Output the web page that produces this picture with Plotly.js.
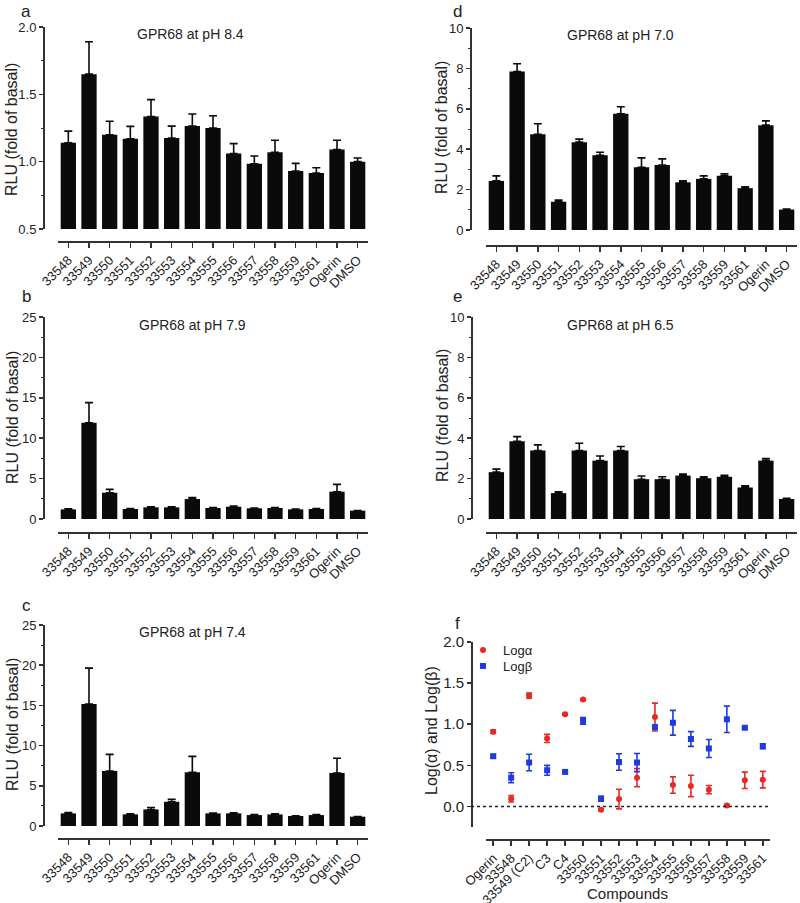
<!DOCTYPE html>
<html>
<head>
<meta charset="utf-8">
<script src="https://cdn.plot.ly/plotly-3.0.1.min.js"></script>
<style>html,body{margin:0;padding:0;background:#fff;}#chart{width:800px;height:903px;}</style>
</head>
<body>
<div id="chart"></div>
<script>
// ---------- data ----------
const compounds = ['33548','33549','33550','33551','33552','33553','33554','33555','33556','33557','33558','33559','33561','Ogerin','DMSO'];

const pH84 = [1.14,1.65,1.20,1.17,1.335,1.175,1.265,1.25,1.06,0.985,1.07,0.93,0.915,1.09,1.00];
const pH84Err = [0.087,0.24,0.10,0.092,0.126,0.089,0.089,0.091,0.074,0.057,0.089,0.057,0.04,0.069,0.027];

const pH79 = [1.19,11.9,3.25,1.24,1.44,1.44,2.47,1.36,1.52,1.32,1.36,1.19,1.24,3.38,1.03];
const pH79Err = [0.08,2.5,0.42,0.05,0.07,0.07,0.2,0.05,0.07,0.05,0.05,0.04,0.04,0.9,0.03];

const pH74 = [1.57,15.18,6.85,1.44,2.06,3.01,6.68,1.57,1.57,1.36,1.44,1.24,1.36,6.6,1.16];
const pH74Err = [0.1,4.46,2.06,0.07,0.25,0.3,1.98,0.05,0.07,0.05,0.07,0.04,0.07,1.82,0.03];

const pH70 = [2.43,7.85,4.74,1.40,4.35,3.70,5.75,3.11,3.22,2.36,2.53,2.68,2.07,5.19,1.01];
const pH70Err = [0.25,0.38,0.52,0.08,0.15,0.15,0.35,0.46,0.3,0.07,0.15,0.1,0.07,0.21,0.03];

const pH65 = [2.32,3.85,3.39,1.28,3.39,2.89,3.39,1.97,1.97,2.15,2.02,2.09,1.56,2.89,0.99];
const pH65Err = [0.15,0.23,0.28,0.07,0.36,0.23,0.2,0.16,0.12,0.08,0.07,0.07,0.08,0.1,0.03];

const fCompounds = ['Ogerin','33548','33549 (C2)','C3','C4','33550','33551','33552','33553','33554','33555','33556','33557','33558','33559','33561'];
const logAlpha = [0.908,0.094,1.348,0.827,1.12,1.30,-0.04,0.09,0.35,1.087,0.26,0.25,0.204,0.012,0.318,0.326];
const logAlphaErr = [0.02,0.04,0.03,0.05,0.01,0.01,0.01,0.12,0.11,0.17,0.1,0.13,0.05,0.01,0.1,0.1];
const logBeta = [0.611,0.35,0.534,0.44,0.42,1.04,0.094,0.54,0.534,0.965,1.018,0.82,0.705,1.06,0.957,0.733];
const logBetaErr = [0.02,0.06,0.1,0.06,0.01,0.04,0.03,0.1,0.11,0.02,0.15,0.09,0.11,0.16,0.01,0.03];

// ---------- layout helpers ----------
const W = 800, H = 903;
const px = x => x / W;
const py = y => 1 - y / H;
const FONT = 'Liberation Sans, Arial, sans-serif';
const TXT = '#222';
const AX = '#333';

const panels = [
  {id:'', vals:pH84, err:pH84Err, title:'GPR68 at pH 8.4', letter:'a', xd:[58,368], yd:[27,229], yr:[0.5,2.0], tick0:0.5, dtick:0.5, minorDt:0.25, fmt:'.1f', yPos:43, xPos:241, titleXY:[190,34], letterXY:[26,11], ytXY:[11,130]},
  {id:'2', vals:pH79, err:pH79Err, title:'GPR68 at pH 7.9', letter:'b', xd:[58,368], yd:[317,519], yr:[0,25], tick0:0, dtick:5, minorDt:2.5, fmt:'d', yPos:43, xPos:532, titleXY:[192,325], letterXY:[26,296], ytXY:[12,418]},
  {id:'3', vals:pH74, err:pH74Err, title:'GPR68 at pH 7.4', letter:'c', xd:[58,368], yd:[625,826], yr:[0,25], tick0:0, dtick:5, minorDt:2.5, fmt:'d', yPos:43, xPos:838, titleXY:[192,632], letterXY:[26,605], ytXY:[12,725]},
  {id:'4', vals:pH70, err:pH70Err, title:'GPR68 at pH 7.0', letter:'d', xd:[486,797], yd:[28,230], yr:[0,10], tick0:0, dtick:2, minorDt:1, fmt:'d', yPos:470, xPos:245, titleXY:[620,35], letterXY:[457,11], ytXY:[442,128]},
  {id:'5', vals:pH65, err:pH65Err, title:'GPR68 at pH 6.5', letter:'e', xd:[486,797], yd:[317,519], yr:[0,10], tick0:0, dtick:2, minorDt:1, fmt:'d', yPos:471, xPos:532, titleXY:[620,325], letterXY:[457,296], ytXY:[442,416]}
];

const data = [];
const legendBase = {xanchor: 'left', yanchor: 'middle', bgcolor: 'rgba(0,0,0,0)', borderwidth: 0,
  font: {family: FONT, size: 13, color: TXT}, itemwidth: 30};
const layout = {
  width: W, height: H,
  margin: {l:0, r:0, t:0, b:0},
  paper_bgcolor: '#fff', plot_bgcolor: 'rgba(0,0,0,0)',
  font: {family: FONT, color: TXT, size: 13},
  annotations: [], shapes: [],
  showlegend: true,
  legend: Object.assign({x: px(463), y: py(650)}, legendBase),
  legend2: Object.assign({x: px(463), y: py(666)}, legendBase)
};

function ann(text, x, y, size, extra) {
  return Object.assign({text: text, x: px(x), y: py(y), xref: 'paper', yref: 'paper',
    showarrow: false, xanchor: 'center', yanchor: 'middle', font: {family: FONT, size: size, color: TXT}}, extra || {});
}

panels.forEach(p => {
  const xa = 'x' + p.id, ya = 'y' + p.id;
  data.push({
    type: 'bar', x: compounds, y: p.vals, xaxis: xa, yaxis: ya, width: 0.74,
    marker: {color: '#0a0a0a', line: {width: 0}},
    error_y: {type: 'data', array: p.err, arrayminus: p.err.map(() => 0), symmetric: false,
              color: '#0a0a0a', thickness: 1.6, width: 4},
    showlegend: false, hoverinfo: 'x+y'
  });
  layout['xaxis' + p.id] = {
    domain: [px(p.xd[0]), px(p.xd[1])], anchor: 'free', position: py(p.xPos),
    type: 'category', range: [-0.5, 14.5], showline: true, linecolor: AX, linewidth: 1.5,
    ticks: 'outside', ticklen: 5, tickwidth: 1.5, tickcolor: AX, tickangle: -45,
    tickfont: {family: FONT, size: 13, color: TXT}, showgrid: false, zeroline: false, fixedrange: true
  };
  layout['yaxis' + p.id] = {
    domain: [py(p.yd[1]), py(p.yd[0])], anchor: 'free', position: px(p.yPos),
    range: p.yr, tick0: p.tick0, dtick: p.dtick, tickformat: p.fmt,
    showline: true, linecolor: AX, linewidth: 1.5,
    ticks: 'outside', ticklen: 4, tickwidth: 1.5, tickcolor: AX,
    minor: {ticks: 'outside', ticklen: 2.5, tickwidth: 1, tickcolor: AX, dtick: p.minorDt, showgrid: false},
    tickfont: {family: FONT, size: 13, color: TXT}, showgrid: false, zeroline: false, fixedrange: true
  };
  layout.annotations.push(ann(p.title, p.titleXY[0], p.titleXY[1], 14));
  layout.annotations.push(ann(p.letter, p.letterXY[0], p.letterXY[1], 17));
  layout.annotations.push(ann('RLU (fold of basal)', p.ytXY[0], p.ytXY[1], 16, {textangle: -90}));
});

// ---------- panel f ----------
data.push({
  type: 'scatter', mode: 'markers', name: 'Log\u03b1', x: fCompounds, y: logAlpha, xaxis: 'x6', yaxis: 'y6',
  legend: 'legend',
  marker: {color: '#e52a26', size: 6, symbol: 'circle'},
  error_y: {type: 'data', array: logAlphaErr, color: '#e52a26', thickness: 1.6, width: 3}
});
data.push({
  type: 'scatter', mode: 'markers', name: 'Log\u03b2', x: fCompounds, y: logBeta, xaxis: 'x6', yaxis: 'y6',
  legend: 'legend2',
  marker: {color: '#1f3be0', size: 6, symbol: 'square'},
  error_y: {type: 'data', array: logBetaErr, color: '#1f3be0', thickness: 1.6, width: 3}
});
layout.xaxis6 = {
  domain: [px(486), px(770)], anchor: 'free', position: py(839),
  type: 'category', range: [-0.4, 15.4], showline: true, linecolor: AX, linewidth: 1.5,
  ticks: 'outside', ticklen: 5, tickwidth: 1.5, tickcolor: AX, tickangle: -45,
  tickfont: {family: FONT, size: 13, color: TXT}, showgrid: false, zeroline: false, fixedrange: true
};
layout.yaxis6 = {
  domain: [py(827), py(642)], anchor: 'free', position: px(471),
  range: [-0.25, 2.0], tick0: 0, dtick: 0.5, tickformat: '.1f',
  showline: true, linecolor: AX, linewidth: 1.5,
  ticks: 'outside', ticklen: 4, tickwidth: 1.5, tickcolor: AX,
  tickfont: {family: FONT, size: 15, color: TXT}, showgrid: false, zeroline: false, fixedrange: true
};
layout.shapes.push({type: 'line', xref: 'paper', yref: 'y6', x0: px(471), x1: px(770), y0: 0, y1: 0,
  line: {color: '#222', width: 1.5, dash: 'dot'}});
layout.annotations.push(ann('f', 457, 623, 17));
layout.annotations.push(ann('Log(\u03b1) and Log(\u03b2)', 431, 730, 16, {textangle: -90}));
layout.annotations.push(ann('Compounds', 627, 893, 15));

Plotly.newPlot('chart', data, layout, {staticPlot: true, displayModeBar: false});
</script>
</body>
</html>
